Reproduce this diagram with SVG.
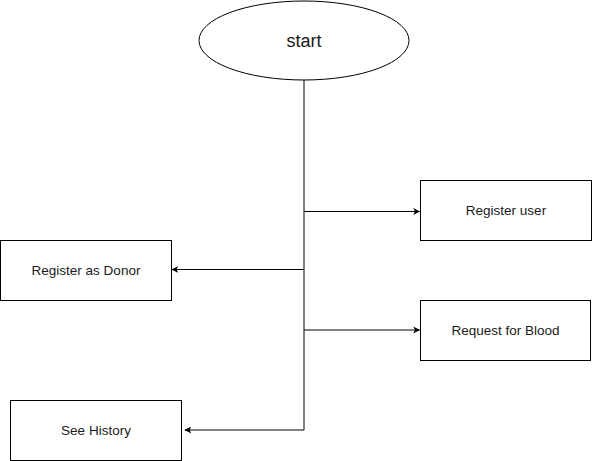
<svg xmlns="http://www.w3.org/2000/svg" width="592" height="461" viewBox="0 0 592 461">
<style>
.shape{fill:#fff;stroke:#000;stroke-width:1}
.lbl{font-family:"Liberation Sans",Arial,sans-serif;font-size:13.5px;fill:#1a1a1a;text-anchor:middle;dominant-baseline:central}
.big{font-size:18px}
.edge{fill:none;stroke:#000;stroke-width:1}
</style>
<defs>
<marker id="arr" viewBox="0 0 10 10" refX="9" refY="5" markerWidth="7" markerHeight="7" markerUnits="userSpaceOnUse" orient="auto">
<path d="M0,0 L10,5 L0,10 L2.5,5 Z" fill="#000"/>
</marker>
</defs>
<rect width="592" height="461" fill="#fff"/>
<g id="edges">
<path class="edge" d="M304,80 V430"/>
<path class="edge" d="M304,211.5 H419.5" marker-end="url(#arr)"/>
<path class="edge" d="M304,269.5 H172" marker-end="url(#arr)"/>
<path class="edge" d="M304,330 H419.5" marker-end="url(#arr)"/>
<path class="edge" d="M304,430 H185" marker-end="url(#arr)"/>
</g>
<g id="start">
<ellipse class="shape" cx="304" cy="40.5" rx="105" ry="39.5"/>
<text class="lbl big" x="304" y="41">start</text>
</g>
<g id="register-user">
<rect class="shape" x="420.5" y="180.5" width="171" height="60"/>
<text class="lbl" x="506" y="210.5">Register user</text>
</g>
<g id="register-donor">
<rect class="shape" x="0.5" y="240.5" width="171" height="60"/>
<text class="lbl" x="86" y="270.5">Register as Donor</text>
</g>
<g id="request-blood">
<rect class="shape" x="420.5" y="300.5" width="170" height="60"/>
<text class="lbl" x="505.5" y="330">Request for Blood</text>
</g>
<g id="see-history">
<rect class="shape" x="10.5" y="400.5" width="171" height="60"/>
<text class="lbl" x="96" y="430.5">See History</text>
</g>
</svg>
